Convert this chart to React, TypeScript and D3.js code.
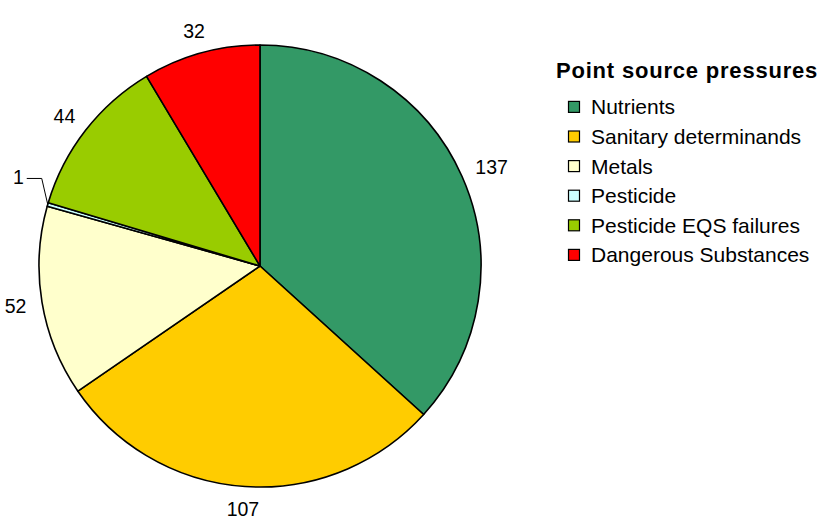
import React from "react";
import * as d3 from "d3";

const categories = [
  "Nutrients",
  "Sanitary determinands",
  "Metals",
  "Pesticide",
  "Pesticide EQS failures",
  "Dangerous Substances",
];
const values = [137, 107, 52, 1, 44, 32];
const colors = ["#339966", "#FFCC00", "#FFFFCC", "#CCFFFF", "#99CC00", "#FF0000"];
const legendTitle = "Point source pressures";

const W = 823;
const H = 521;
const cx = 260;
const cy = 266;
const r = 221;
const font = "'Liberation Sans', Arial, sans-serif";
const labelSize = 19.5;

export default function App() {
  const pie = d3.pie<number>().sort(null).value((d) => d);
  const arcs = pie(values);
  const arcGen = d3.arc<d3.PieArcDatum<number>>().innerRadius(0).outerRadius(r);

  const labels = arcs.map((a, i) => {
    const mid = (a.startAngle + a.endAngle) / 2;
    const s = Math.sin(mid);
    const c = Math.cos(mid);
    const txt = String(values[i]);
    const halfW = txt.length * 0.278 * labelSize;
    const halfH = 7;
    if (values[i] < 5) {
      const ex = cx + r * s;
      const ey = cy - r * c;
      const kx = ex - 6;
      const ky = ey - 26;
      const lx = kx - 15;
      return { i, txt, x: lx - 3, y: ky - 1.5, anchor: "end", leader: [[ex, ey], [kx, ky], [lx, ky]] };
    }
    const R = r + 16;
    const x = cx + R * s + halfW * s;
    const y = cy - R * c - halfH * c;
    return { i, txt, x, y, anchor: "middle", leader: null as null | number[][] };
  });

  return (
    <svg width={W} height={H} style={{ position: "absolute", left: 0, top: 0, background: "#fff" }}>
      <g transform={`translate(${cx},${cy})`}>
        {arcs.map((a, i) => (
          <path key={i} d={arcGen(a) || ""} fill={colors[i]} stroke="#000" strokeWidth={1.6} strokeLinejoin="round" />
        ))}
      </g>
      {labels.map((l) => (
        <g key={l.i}>
          {l.leader && (
            <polyline
              points={l.leader.map((p) => p.join(",")).join(" ")}
              fill="none"
              stroke="#000"
              strokeWidth={1}
            />
          )}
          <text
            x={l.x}
            y={l.y}
            textAnchor={l.anchor as any}
            dominantBaseline="central"
            fontFamily={font}
            fontSize={labelSize}
            fill="#000"
          >
            {l.txt}
          </text>
        </g>
      ))}
      <g fontFamily={font}>
        <text x={556} y={78.3} fontSize={22} fontWeight="bold" letterSpacing={0.8} fill="#000">
          {legendTitle}
        </text>
        {categories.map((c, i) => {
          const base = 114.4 + i * 29.6;
          return (
            <g key={c}>
              <rect x={568.5} y={base - 13} width={11} height={11} fill={colors[i]} stroke="#000" strokeWidth={1.2} />
              <text x={591} y={base} fontSize={21} fill="#000">
                {c}
              </text>
            </g>
          );
        })}
      </g>
    </svg>
  );
}
